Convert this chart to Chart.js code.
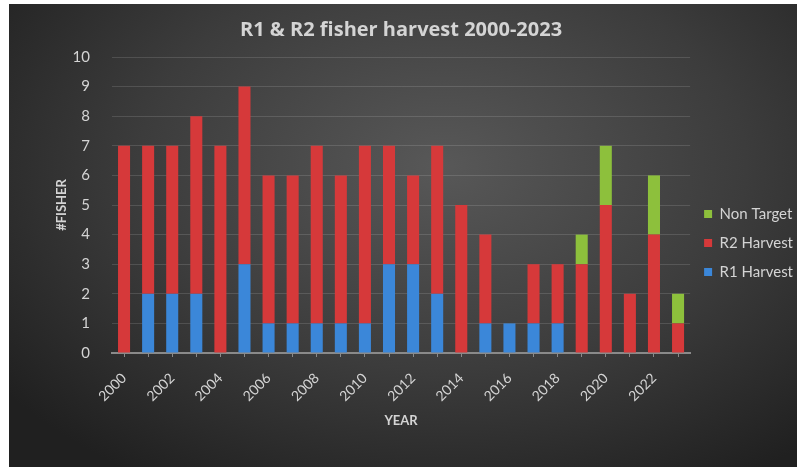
<!DOCTYPE html>
<html>
<head>
<meta charset="utf-8">
<script src="https://cdn.jsdelivr.net/npm/chart.js@4"></script>
<style>
    html, body { margin: 0; padding: 0; background: #ffffff; }
    #wrap {
        position: absolute; left: 9px; top: 4px; width: 788px; height: 463px;
        background: radial-gradient(ellipse 70% 80% at 55% 35%, #585858 0%, #3c3c3c 55%, #202020 100%);
    }
</style>
</head>
<body>
<div id="wrap"><canvas id="harvest_chart"></canvas></div>
<script>
"use strict";

// Chart data
var years = ['2000', '2001', '2002', '2003', '2004', '2005', '2006', '2007', '2008', '2009', '2010', '2011',
             '2012', '2013', '2014', '2015', '2016', '2017', '2018', '2019', '2020', '2021', '2022', '2023'];
var r1Harvest = [0, 2, 2, 2, 0, 3, 1, 1, 1, 1, 1, 3, 3, 2, 0, 1, 1, 1, 1, 0, 0, 0, 0, 0];
var r2Harvest = [7, 5, 5, 6, 7, 6, 5, 5, 6, 5, 6, 4, 3, 5, 5, 3, 0, 2, 2, 3, 5, 2, 4, 1];
var nonTarget = [0, 0, 0, 0, 0, 0, 0, 0, 0, 0, 0, 0, 0, 0, 0, 0, 0, 0, 0, 1, 2, 0, 2, 1];
var yTicks = [0, 1, 2, 3, 4, 5, 6, 7, 8, 9, 10];

var textColor = '#d4d4d4';
var fontFamily = 'Lato, "Open Sans", sans-serif';

var HarvestChart = function () {
    var initHarvestChart = function () {
        var element = document.getElementById('harvest_chart');
        var ctx = element.getContext('2d');

        var config = {
            type: 'bar',
            data: {
                labels: years,
                datasets: [{
                    label: 'R1 Harvest',
                    data: r1Harvest,
                    backgroundColor: '#3b87d9',
                }, {
                    label: 'R2 Harvest',
                    data: r2Harvest,
                    backgroundColor: '#d6393a',
                }, {
                    label: 'Non Target',
                    data: nonTarget,
                    backgroundColor: '#8dc03c',
                }]
            },
            options: {
                responsive: true,
                maintainAspectRatio: false,
                animation: false,
                layout: {
                    padding: { left: 41, right: -6, top: 0, bottom: 34 }
                },
                datasets: {
                    bar: { barPercentage: 0.5, categoryPercentage: 1.0 }
                },
                scales: {
                    x: {
                        stacked: true,
                        afterFit: function (scale) { scale.height = 80; },
                        grid: {
                            display: true,
                            drawOnChartArea: false,
                            drawTicks: true,
                            tickLength: 4,
                            color: '#8a8a8a',
                            offset: false
                        },
                        border: { display: true, color: '#8a8a8a', width: 2 },
                        ticks: {
                            color: textColor,
                            font: { family: fontFamily, size: 14 },
                            autoSkip: false,
                            minRotation: 45,
                            maxRotation: 45,
                            padding: 13,
                            callback: function (value, index) {
                                return index % 2 === 0 ? years[index] : '';
                            }
                        },
                        title: {
                            display: true,
                            text: 'YEAR',
                            color: textColor,
                            font: { family: fontFamily, size: 13, weight: 'bold' },
                            padding: { top: 4, bottom: 4 }
                        }
                    },
                    y: {
                        stacked: true,
                        min: 0,
                        max: 10,
                        afterFit: function (scale) { scale.width = 62; },
                        afterBuildTicks: function (axis) {
                            axis.ticks = yTicks.map(function (v) { return { value: v }; });
                        },
                        grid: {
                            color: 'rgba(255,255,255,0.13)',
                            drawTicks: false
                        },
                        border: { display: false },
                        ticks: {
                            color: textColor,
                            font: { family: fontFamily, size: 15 },
                            padding: 22
                        },
                        title: {
                            display: true,
                            text: '#FISHER',
                            color: textColor,
                            font: { family: fontFamily, size: 13, weight: 'bold' },
                            padding: { top: 4, bottom: 4 }
                        }
                    }
                },
                plugins: {
                    title: {
                        display: true,
                        fullSize: false,
                        text: 'R1 & R2 fisher harvest 2000-2023',
                        color: textColor,
                        font: { family: '"Open Sans", sans-serif', size: 20, weight: 'bold' },
                        padding: { top: 14, bottom: 15 }
                    },
                    legend: {
                        position: 'right',
                        fullSize: false,
                        reverse: true,
                        title: {
                            // empty title only pushes the entries down
                            display: true,
                            text: '',
                            font: { size: 10 },
                            padding: { top: 32, bottom: 32 }
                        },
                        labels: {
                            color: textColor,
                            font: { family: fontFamily, size: 15 },
                            boxWidth: 8,
                            boxHeight: 8,
                            padding: 14
                        }
                    },
                    tooltip: { enabled: false }
                }
            }
        };

        element.chartInstance = new Chart(ctx, config);
    };

    return {
        init: function () {
            initHarvestChart();
        }
    };
}();

document.addEventListener('DOMContentLoaded', function () {
    HarvestChart.init();
});
</script>
</body>
</html>
